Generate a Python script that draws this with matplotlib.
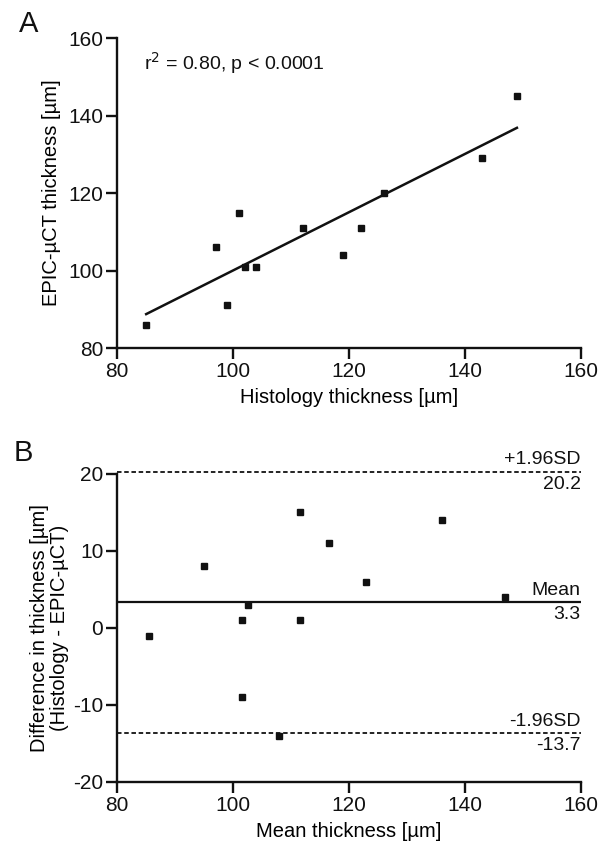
import matplotlib
matplotlib.use("Agg")
import matplotlib.pyplot as plt
import numpy as np

plt.rcParams["font.family"] = ["Liberation Sans", "DejaVu Sans"]
plt.rcParams["axes.unicode_minus"] = False

# paired thickness measurements (µm)
histology = [85, 97, 99, 101, 102, 104, 112, 119, 122, 126, 143, 149]
epic_uct = [86, 106, 91, 115, 101, 101, 111, 104, 111, 120, 129, 145]

stats_text = "r$^2$ = 0.80, p < 0.0001"
bias = 3.3
upper_loa = 20.2
lower_loa = -13.7

INK = "#111111"
TICK_FS = 15
LABEL_FS = 14.5


def style_axes(ax):
    for side in ("top", "right"):
        ax.spines[side].set_visible(False)
    for side in ("left", "bottom"):
        ax.spines[side].set_linewidth(1.7)
        ax.spines[side].set_color(INK)
    ax.tick_params(direction="out", length=8, width=1.7, labelsize=TICK_FS,
                   colors=INK, pad=2)


fig = plt.figure(figsize=(5.98, 8.49), dpi=100)
fig.patch.set_facecolor("white")

# ── Panel A: correlation ──
ax1 = fig.add_axes([0.196, 0.590, 0.775, 0.365])
h = np.array(histology, dtype=float)
e = np.array(epic_uct, dtype=float)
ax1.plot(h, e, "s", color=INK, ms=4.5, zorder=3)
slope, icpt = np.polyfit(h, e, 1)
xl = np.array([h.min(), h.max()])
ax1.plot(xl, slope * xl + icpt, color=INK, lw=1.8)
ax1.set_xlim(80, 160)
ax1.set_ylim(80, 160)
ax1.set_xticks([80, 100, 120, 140, 160])
ax1.set_yticks([80, 100, 120, 140, 160])
style_axes(ax1)
ax1.set_xlabel("Histology thickness [µm]", fontsize=LABEL_FS, labelpad=5)
ax1.set_ylabel("EPIC-µCT thickness [µm]", fontsize=LABEL_FS, labelpad=5)
ax1.text(84.7, 153.5, stats_text, fontsize=14, color=INK, va="center")
fig.text(0.032, 0.972, "A", fontsize=21, color=INK, va="center")

# ── Panel B: Bland-Altman ──
ax2 = fig.add_axes([0.196, 0.079, 0.775, 0.363])
mean_t = (h + e) / 2
diff_t = h - e
ax2.plot(mean_t, diff_t, "s", color=INK, ms=4.5, zorder=3, clip_on=False)
ax2.axhline(bias, color=INK, lw=1.6)
for v in (upper_loa, lower_loa):
    ax2.axhline(v, color=INK, lw=1.3, ls=(0, (2.5, 1.5)), clip_on=False)
ax2.set_xlim(80, 160)
ax2.set_ylim(-20, 20)
ax2.set_xticks([80, 100, 120, 140, 160])
ax2.set_yticks([-20, -10, 0, 10, 20])
style_axes(ax2)
ax2.set_xlabel("Mean thickness [µm]", fontsize=LABEL_FS, labelpad=5)
ax2.set_ylabel("Difference in thickness [µm]\n(Histology - EPIC-µCT)",
               fontsize=LABEL_FS, labelpad=3, linespacing=1.05)

for v, top, bot in ((upper_loa, "+1.96SD", f"{upper_loa:.1f}"),
                    (bias, "Mean", f"{bias:.1f}"),
                    (lower_loa, "-1.96SD", f"{lower_loa:.1f}")):
    ax2.text(160, v + 0.5, top, ha="right", va="bottom", fontsize=14, color=INK)
    ax2.text(160, v - 0.5, bot, ha="right", va="top", fontsize=14, color=INK)
fig.text(0.022, 0.466, "B", fontsize=21, color=INK, va="center")

fig.savefig("out.png", dpi=100, facecolor="white")
